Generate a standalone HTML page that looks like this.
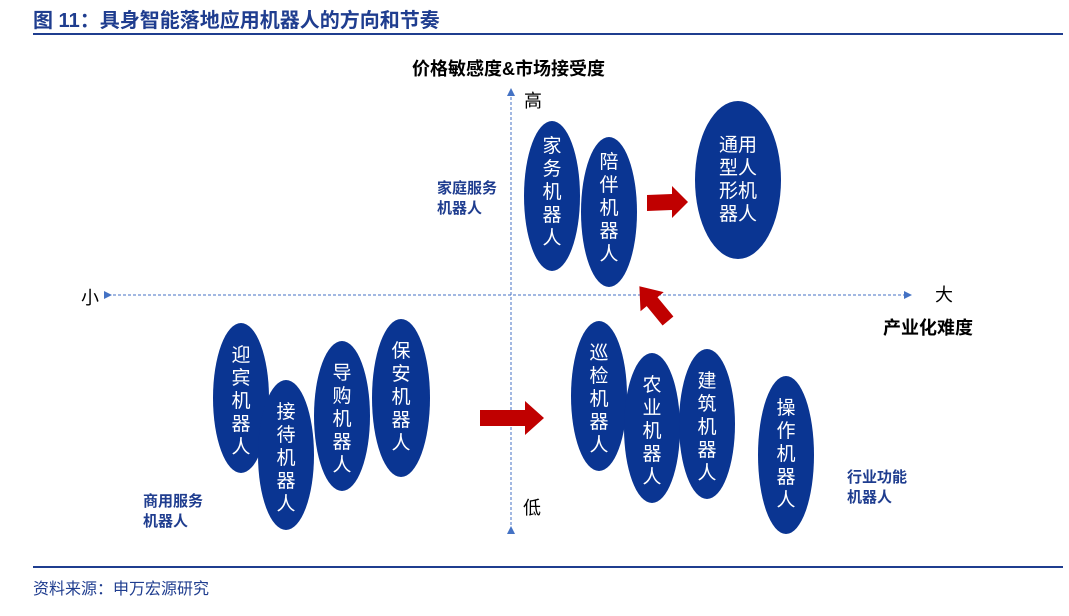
<!DOCTYPE html>
<html><head><meta charset="utf-8"><style>
body{margin:0;background:#fff;width:1069px;height:611px;overflow:hidden}
svg text{font-family:"Liberation Sans","Noto Sans CJK SC",sans-serif}
</style></head><body>
<svg width="1069" height="611" viewBox="0 0 1069 611">
<defs><marker id="ah" markerWidth="8" markerHeight="8" refX="4" refY="4" orient="auto"><path d="M0,0L8,4L0,8z" fill="#4472c4"/></marker></defs>
<text x="33" y="27" font-size="20" font-weight="bold" fill="#1f3d8f">图 11：具身智能落地应用机器人的方向和节奏</text>
<rect x="33" y="33" width="1030" height="2" fill="#1f3d8f"/>
<rect x="33" y="566" width="1030" height="2" fill="#1f3d8f"/>
<text x="33" y="594" font-size="16" fill="#1f3d8f">资料来源：申万宏源研究</text>
<line x1="511" y1="530" x2="511" y2="92" stroke="#4472c4" stroke-dasharray="3,2" marker-end="url(#ah)" marker-start="url(#ah)"/>
<line x1="108" y1="295" x2="908" y2="295" stroke="#4472c4" stroke-dasharray="3,2" marker-end="url(#ah)" marker-start="url(#ah)"/>
<g font-size="18" font-weight="bold" fill="#000">
<text x="412" y="75">价格敏感度&amp;市场接受度</text>
<text x="883" y="334">产业化难度</text></g>
<g font-size="18" fill="#000">
<text x="524" y="107">高</text><text x="523" y="514">低</text>
<text x="81" y="304">小</text><text x="935" y="301">大</text></g>
<g font-size="15" font-weight="bold" fill="#1f3d8f">
<text x="437" y="193">家庭服务</text><text x="437" y="213">机器人</text>
<text x="143" y="506">商用服务</text><text x="143" y="526">机器人</text>
<text x="847" y="482">行业功能</text><text x="847" y="502">机器人</text></g>
<g fill="#0a3592">
<ellipse cx="552" cy="196" rx="28" ry="75"/>
<ellipse cx="609" cy="212" rx="28" ry="75"/>
<ellipse cx="738" cy="180" rx="43" ry="79"/>
<ellipse cx="241" cy="398" rx="28" ry="75"/>
<ellipse cx="286" cy="455" rx="28" ry="75"/>
<ellipse cx="342" cy="416" rx="28" ry="75"/>
<ellipse cx="401" cy="398" rx="29" ry="79"/>
<ellipse cx="599" cy="396" rx="28" ry="75"/>
<ellipse cx="652" cy="428" rx="28" ry="75"/>
<ellipse cx="707" cy="424" rx="28" ry="75"/>
<ellipse cx="786" cy="455" rx="28" ry="79"/>
</g>
<g font-size="19" fill="#fff" text-anchor="middle">
<text x="552" y="152">家</text><text x="552" y="175">务</text><text x="552" y="198">机</text><text x="552" y="221">器</text><text x="552" y="244">人</text>
<text x="609" y="168">陪</text><text x="609" y="191">伴</text><text x="609" y="214">机</text><text x="609" y="237">器</text><text x="609" y="260">人</text>
<text x="738" y="151">通用</text><text x="738" y="174">型人</text><text x="738" y="197">形机</text><text x="738" y="220">器人</text>
<text x="241" y="361">迎</text><text x="241" y="384">宾</text><text x="241" y="407">机</text><text x="241" y="430">器</text><text x="241" y="453">人</text>
<text x="286" y="418">接</text><text x="286" y="441">待</text><text x="286" y="464">机</text><text x="286" y="487">器</text><text x="286" y="510">人</text>
<text x="342" y="379">导</text><text x="342" y="402">购</text><text x="342" y="425">机</text><text x="342" y="448">器</text><text x="342" y="471">人</text>
<text x="401" y="357">保</text><text x="401" y="380">安</text><text x="401" y="403">机</text><text x="401" y="426">器</text><text x="401" y="449">人</text>
<text x="599" y="359">巡</text><text x="599" y="382">检</text><text x="599" y="405">机</text><text x="599" y="428">器</text><text x="599" y="451">人</text>
<text x="652" y="391">农</text><text x="652" y="414">业</text><text x="652" y="437">机</text><text x="652" y="460">器</text><text x="652" y="483">人</text>
<text x="707" y="387">建</text><text x="707" y="410">筑</text><text x="707" y="433">机</text><text x="707" y="456">器</text><text x="707" y="479">人</text>
<text x="786" y="414">操</text><text x="786" y="437">作</text><text x="786" y="460">机</text><text x="786" y="483">器</text><text x="786" y="506">人</text>
</g>
<g fill="#c00000">
<path d="M647,195L672,194L672,186L688,202L672,218L672,210L647,211z"/>
<path d="M480,410L525,410L525,401L544,418L525,435L525,426L480,426z"/>
<path transform="translate(668,321) rotate(230.5)" d="M0,-7L25,-7L25,-15L45,0L25,15L25,7L0,7z"/>
</g>
</svg>
</body></html>
